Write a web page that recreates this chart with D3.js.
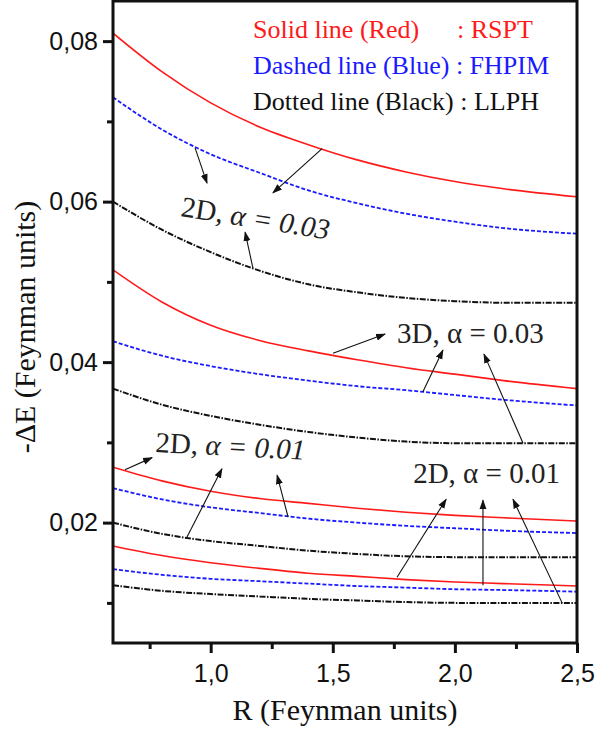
<!DOCTYPE html>
<html>
<head>
<meta charset="utf-8">
<script src="https://cdn.jsdelivr.net/npm/d3@7/dist/d3.min.js"></script>
<style>
  html, body { margin: 0; padding: 0; background: #fff; }
  svg { display: block; }
</style>
</head>
<body>
<svg id="chart" width="599" height="733"></svg>
<script>
// Sample points along R (Feynman units)
const R = [0.6, 0.8, 1.0, 1.2, 1.4, 1.6, 1.8, 2.0, 2.2, 2.5];

// 2D, alpha = 0.03
const rspt2D03  = [0.0810, 0.0762, 0.0723, 0.0693, 0.0671, 0.0652, 0.0637, 0.0625, 0.0616, 0.0606];
const fhpim2D03 = [0.0730, 0.0690, 0.0659, 0.0636, 0.0614, 0.0598, 0.0585, 0.0575, 0.0567, 0.0560];
const llph2D03  = [0.0600, 0.0565, 0.0537, 0.0514, 0.0497, 0.0487, 0.0480, 0.0476, 0.0474, 0.0474];

// 3D, alpha = 0.03
const rspt3D03  = [0.0515, 0.0475, 0.0446, 0.0427, 0.0414, 0.0403, 0.0393, 0.0385, 0.0377, 0.0367];
const fhpim3D03 = [0.0426, 0.0408, 0.0395, 0.0385, 0.0377, 0.0370, 0.0365, 0.0359, 0.0353, 0.0346];
const llph3D03  = [0.0367, 0.0347, 0.0333, 0.0322, 0.0313, 0.0306, 0.0301, 0.0299, 0.0299, 0.0299];

// 2D, alpha = 0.01 (upper set)
const rsptA01  = [0.0269, 0.0252, 0.0239, 0.0230, 0.0224, 0.0218, 0.0213, 0.0209, 0.0206, 0.0202];
const fhpimA01 = [0.0243, 0.0229, 0.0219, 0.0212, 0.0205, 0.0200, 0.0196, 0.0193, 0.0190, 0.0187];
const llphA01  = [0.0200, 0.0186, 0.0177, 0.0171, 0.0165, 0.0161, 0.0158, 0.0157, 0.0157, 0.0157];

// 2D, alpha = 0.01 (lower set)
const rsptB01  = [0.0171, 0.0159, 0.0150, 0.0143, 0.0137, 0.0133, 0.0129, 0.0126, 0.0124, 0.0121];
const fhpimB01 = [0.0142, 0.0135, 0.0130, 0.0127, 0.0124, 0.0121, 0.0119, 0.0117, 0.0116, 0.0114];
const llphB01  = [0.0122, 0.0115, 0.0111, 0.0108, 0.0105, 0.0103, 0.0101, 0.0100, 0.0100, 0.0100];

// Axis ticks
const xMajor = [1.0, 1.5, 2.0, 2.5];
const xMinor = [0.75, 1.25, 1.75, 2.25];
const yMajor = [0.02, 0.04, 0.06, 0.08];
const yMinor = [0.01, 0.03, 0.05, 0.07];

// Legend entries
const legendLeft  = ["Solid line (Red)", "Dashed line (Blue) : FHPIM", "Dotted line (Black) : LLPH"];
const legendRight = [": RSPT", "", ""];

// Annotation labels: [prefix, R, value, rotation, math part]
const labels = [
  ["2D, ", 0.874, 0.0582, 9, "\u03b1 = 0.03"],
  ["3D, ", 1.763, 0.0424, 0, "\u03b1 = 0.03"],
  ["2D, ", 0.772, 0.0288, 3, "\u03b1 = 0.01"],
  ["2D, ", 1.829, 0.0249, 0, "\u03b1 = 0.01"]
];

// Annotation arrows: [R0, v0, R1, v1] from tail to head
const arrows = [
  [0.936, 0.0667, 0.985, 0.0623],
  [1.456, 0.0666, 1.255, 0.0611],
  [1.173, 0.0517, 1.141, 0.0562],
  [1.501, 0.0411, 1.714, 0.0435],
  [1.869, 0.0363, 1.951, 0.0415],
  [2.279, 0.0299, 2.119, 0.0410],
  [0.649, 0.0266, 0.760, 0.0281],
  [0.903, 0.0182, 1.046, 0.0267],
  [1.317, 0.0207, 1.272, 0.0259],
  [1.763, 0.0132, 1.964, 0.0229],
  [2.115, 0.0122, 2.115, 0.0228],
  [2.439, 0.0100, 2.238, 0.0229]
];

const RED = "#ff1a1a", BLUE = "#1a1aff", BLACK = "#111";

const svg = d3.select("#chart");
const mLeft = 113, mRight = 577, mTop = 1, mBottom = 643;

const x = d3.scaleLinear().domain([0.6, 2.5]).range([mLeft, mRight]);
const y = d3.scaleLinear().domain([0.005, 0.085]).range([mBottom, mTop]);

const series = [
  { v: rspt2D03,  type: "rspt" }, { v: fhpim2D03, type: "fhpim" }, { v: llph2D03, type: "llph" },
  { v: rspt3D03,  type: "rspt" }, { v: fhpim3D03, type: "fhpim" }, { v: llph3D03, type: "llph" },
  { v: rsptA01,   type: "rspt" }, { v: fhpimA01,  type: "fhpim" }, { v: llphA01,  type: "llph" },
  { v: rsptB01,   type: "rspt" }, { v: fhpimB01,  type: "fhpim" }, { v: llphB01,  type: "llph" }
];
const styles = {
  rspt:  { color: RED,   width: 1.6, dash: null },
  fhpim: { color: BLUE,  width: 1.8, dash: "4,2" },
  llph:  { color: BLACK, width: 2.0, dash: "6,1.5,1.5,1.5" }
};

const line = d3.line()
  .x((d, i) => x(R[i]))
  .y(d => y(d))
  .curve(d3.curveMonotoneX);

const defs = svg.append("defs");
defs.append("clipPath").attr("id", "plotClip")
  .append("rect").attr("x", mLeft).attr("y", mTop).attr("width", mRight - mLeft).attr("height", mBottom - mTop);

const plot = svg.append("g").attr("clip-path", "url(#plotClip)");
series.forEach(s => {
  const st = styles[s.type];
  plot.append("path")
    .attr("d", line(s.v))
    .attr("fill", "none")
    .attr("stroke", st.color)
    .attr("stroke-width", st.width)
    .attr("stroke-dasharray", st.dash);
});

// Arrow marker
defs.append("marker")
  .attr("id", "head")
  .attr("viewBox", "0 0 10 10")
  .attr("refX", 9).attr("refY", 5)
  .attr("markerWidth", 10).attr("markerHeight", 10)
  .attr("markerUnits", "userSpaceOnUse")
  .attr("orient", "auto")
  .append("path").attr("d", "M0,1.5 L10,5 L0,8.5 Z").attr("fill", BLACK);

svg.append("g").selectAll("line").data(arrows).join("line")
  .attr("x1", d => x(d[0])).attr("y1", d => y(d[1]))
  .attr("x2", d => x(d[2])).attr("y2", d => y(d[3]))
  .attr("stroke", BLACK).attr("stroke-width", 1.1)
  .attr("marker-end", "url(#head)");

// Annotation labels
const lab = svg.append("g").selectAll("text").data(labels).join("text")
  .attr("transform", d => `translate(${x(d[1])},${y(d[2])}) rotate(${d[3]})`)
  .attr("font-family", "'Liberation Serif', 'Times New Roman', serif")
  .attr("font-size", 29)
  .attr("fill", "#222");
lab.append("tspan").text(d => d[0]);
lab.append("tspan").attr("font-style", (d, i) => (i === 0 || i === 2) ? "italic" : "normal").text(d => d[4]);

// Legend
const legendColors = [RED, BLUE, BLACK];
const legend = svg.append("g").attr("font-family", "'Liberation Serif', 'Times New Roman', serif").attr("font-size", 26);
legendLeft.forEach((t, i) => {
  legend.append("text").attr("x", 253).attr("y", 38 + i * 36).attr("fill", legendColors[i]).text(t);
  if (legendRight[i]) legend.append("text").attr("x", 457).attr("y", 38 + i * 36).attr("fill", legendColors[i]).text(legendRight[i]);
});

// Axes
const fmt = d => d3.format(".2f")(d).replace(".", ",");
const fmtX = d => d3.format(".1f")(d).replace(".", ",");
const tickFont = "'Liberation Sans', Arial, sans-serif";

const gx = svg.append("g").attr("transform", `translate(0,${mBottom})`)
  .call(d3.axisBottom(x).tickValues(xMajor).tickFormat(fmtX).tickSize(10).tickPadding(11));
const gxm = svg.append("g").attr("transform", `translate(0,${mBottom})`)
  .call(d3.axisBottom(x).tickValues(xMinor).tickFormat("").tickSize(6));
const gy = svg.append("g").attr("transform", `translate(${mLeft},0)`)
  .call(d3.axisLeft(y).tickValues(yMajor).tickFormat(fmt).tickSize(10).tickPadding(5));
const gym = svg.append("g").attr("transform", `translate(${mLeft},0)`)
  .call(d3.axisLeft(y).tickValues(yMinor).tickFormat("").tickSize(6));

[gx, gxm, gy, gym].forEach(g => {
  g.select(".domain").remove();
  g.selectAll(".tick line").attr("stroke", BLACK).attr("stroke-width", 3);
  g.selectAll(".tick text").attr("font-family", tickFont).attr("font-size", 25).attr("fill", "#111");
});

// Frame
svg.append("rect")
  .attr("x", mLeft).attr("y", mTop).attr("width", mRight - mLeft).attr("height", mBottom - mTop)
  .attr("fill", "none").attr("stroke", BLACK).attr("stroke-width", 3);

// Axis titles
svg.append("text")
  .attr("x", (mLeft + mRight) / 2).attr("y", 720)
  .attr("text-anchor", "middle")
  .attr("font-family", "'Liberation Serif', 'Times New Roman', serif")
  .attr("font-size", 30).attr("fill", "#111")
  .text("R (Feynman units)");

svg.append("text")
  .attr("transform", `translate(35,${(mTop + mBottom) / 2 + 5}) rotate(-90)`)
  .attr("text-anchor", "middle")
  .attr("font-family", "'Liberation Serif', 'Times New Roman', serif")
  .attr("font-size", 30).attr("fill", "#111")
  .text("-\u0394E (Feynman units)");
</script>
</body>
</html>
